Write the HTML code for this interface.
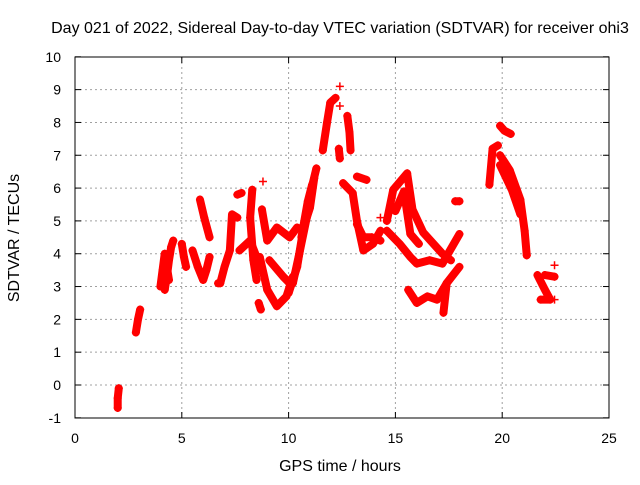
<!DOCTYPE html>
<html><head><meta charset="utf-8"><style>
body{margin:0;background:#fff;}
svg text{font-family:"Liberation Sans",sans-serif;fill:#000;}
</style></head><body>
<svg id="chart" width="640" height="480">
<text x="340" y="33" font-size="16" text-anchor="middle">Day 021 of 2022, Sidereal Day-to-day VTEC variation (SDTVAR) for receiver ohi3</text>
<text x="340" y="471" font-size="16" text-anchor="middle">GPS time / hours</text>
<text x="19" y="238" font-size="16" text-anchor="middle" transform="rotate(-90 19 238)">SDTVAR / TECUs</text>
<g id="grid"></g><g id="ticks"></g><g id="marks"></g>
<rect x="75" y="57" width="534" height="361" fill="none" stroke="#000" stroke-width="1"/>
</svg>
<script>
const xTicks=[0,5,10,15,20,25];
const yTicks=[-1,0,1,2,3,4,5,6,7,8,9,10];
const tracks=[
[[2.0,-0.7],[2.0,-0.4],[2.05,-0.1]],
[[2.85,1.6],[2.95,2.0],[3.05,2.3]],
[[4.2,2.9],[4.3,3.3],[4.4,3.8],[4.5,4.2],[4.6,4.4]],
[[4.0,3.0],[4.1,3.5],[4.2,4.0],[4.4,3.2]],
[[5.0,4.3],[5.1,3.9],[5.2,3.6]],
[[5.5,4.1],[5.75,3.6],[6.0,3.2],[6.15,3.5],[6.3,3.9]],
[[5.85,5.65],[6.05,5.1],[6.3,4.5]],
[[6.7,3.1],[6.8,3.1],[7.0,3.6],[7.25,4.1],[7.35,5.2],[7.6,5.1]],
[[7.7,4.1],[8.2,4.4],[8.5,3.9]],
[[7.6,5.8],[7.8,5.85]],
[[8.3,5.95],[8.2,5.1],[8.35,3.8],[8.5,3.2]],
[[8.75,5.35],[9.0,4.4],[9.45,4.8],[10.05,4.5],[10.4,4.8]],
[[8.65,3.9],[9.0,2.9],[9.45,2.4],[9.9,2.7],[10.2,3.3]],
[[9.1,3.8],[9.75,3.3],[10.05,3.1]],
[[8.6,2.5],[8.7,2.3]],
[[8.8,6.2]],
[[10.2,3.1],[10.5,4.0],[10.85,5.1],[11.0,5.8],[11.3,6.6]],
[[10.6,4.5],[10.9,5.6],[11.1,6.1]],
[[10.0,2.8],[10.4,3.6],[10.7,4.8],[11.0,5.4],[11.2,6.3]],
[[11.6,7.15],[11.8,8.0],[11.95,8.6],[12.2,8.75]],
[[12.4,9.1]],
[[12.4,8.5]],
[[12.75,8.2],[12.85,7.7],[12.9,7.15]],
[[12.35,7.2],[12.4,6.9]],
[[12.55,6.15],[13.0,5.85],[13.2,5.0],[13.5,4.1],[13.95,4.3],[14.3,4.7]],
[[13.2,4.9],[13.5,4.5],[13.9,4.5],[14.3,4.4]],
[[13.2,6.35],[13.65,6.25]],
[[14.3,5.1]],
[[14.6,4.7],[15.2,4.3],[15.7,3.9],[16.0,3.7],[16.6,3.8],[17.2,3.7],[18.0,4.6]],
[[14.6,5.0],[14.9,5.95],[15.55,6.45],[15.8,5.35],[16.3,4.65],[17.2,4.0],[17.6,3.8]],
[[15.0,5.3],[15.4,5.9],[15.7,4.6],[16.1,4.3]],
[[15.6,2.9],[16.0,2.5],[16.5,2.7],[16.95,2.6],[17.4,3.1],[18.0,3.6]],
[[17.25,2.2],[17.4,3.1]],
[[17.8,5.6],[18.0,5.6]],
[[19.4,6.1],[19.55,7.2],[19.8,7.3]],
[[19.9,7.0],[20.35,6.55],[20.85,5.65],[21.05,4.7],[21.15,3.95]],
[[19.9,6.7],[20.45,5.95],[20.85,5.2]],
[[19.9,7.9],[20.1,7.75],[20.4,7.65]],
[[21.65,3.35],[22.0,2.9],[22.25,2.6],[21.8,2.6]],
[[22.0,3.35],[22.45,3.3]],
[[22.45,3.65]],
[[22.45,2.6]]
];
const NS='http://www.w3.org/2000/svg';
const sx=v=>75+v*534/25, sy=v=>385-v*32.82;
function mk(tag,attrs,parent){const e=document.createElementNS(NS,tag);for(const k in attrs)e.setAttribute(k,attrs[k]);parent.appendChild(e);return e;}
const grid=document.getElementById('grid'),ticks=document.getElementById('ticks'),marks=document.getElementById('marks');
xTicks.forEach(t=>{
 const x=sx(t);
 if(t>0&&t<25){const g=mk('line',{x1:x,x2:x,y1:57,y2:418,stroke:'#a0a0a0','stroke-dasharray':'2,3'},grid);
 
 }
 mk('line',{x1:x,x2:x,y1:418,y2:412,stroke:'#000'},ticks);mk('line',{x1:x,x2:x,y1:57,y2:63,stroke:'#000'},ticks);
 const l=mk('text',{x:x,y:443,'font-size':14,'text-anchor':'middle'},ticks);l.textContent=t;
 
 
});
yTicks.forEach(t=>{
 const y=sy(t);
 if(t>-1&&t<10){const g=mk('line',{x1:75,x2:609,y1:y,y2:y,stroke:'#a0a0a0','stroke-dasharray':'2,3'},grid);
 
 }
 mk('line',{x1:75,x2:81,y1:y,y2:y,stroke:'#000'},ticks);mk('line',{x1:609,x2:603,y1:y,y2:y,stroke:'#000'},ticks);
 const l=mk('text',{x:61,y:y+5,'font-size':14,'text-anchor':'end'},ticks);l.textContent=t;
 
 
});
tracks.forEach(tr=>{
 const g=mk('g',{},marks);
 
 
 if(tr.length>1){mk('polyline',{points:tr.map(p=>sx(p[0])+','+sy(p[1])).join(' '),fill:'none',stroke:'#f00','stroke-width':8,'stroke-linejoin':'round','stroke-linecap':'round'},g);}
 tr.forEach(p=>{const x=sx(p[0]),y=sy(p[1]);
  mk('path',{d:`M${x-4},${y}H${x+4}M${x},${y-4}V${y+4}`,stroke:'#f00','stroke-width':1.5},g);});
});
</script>
</body></html>
